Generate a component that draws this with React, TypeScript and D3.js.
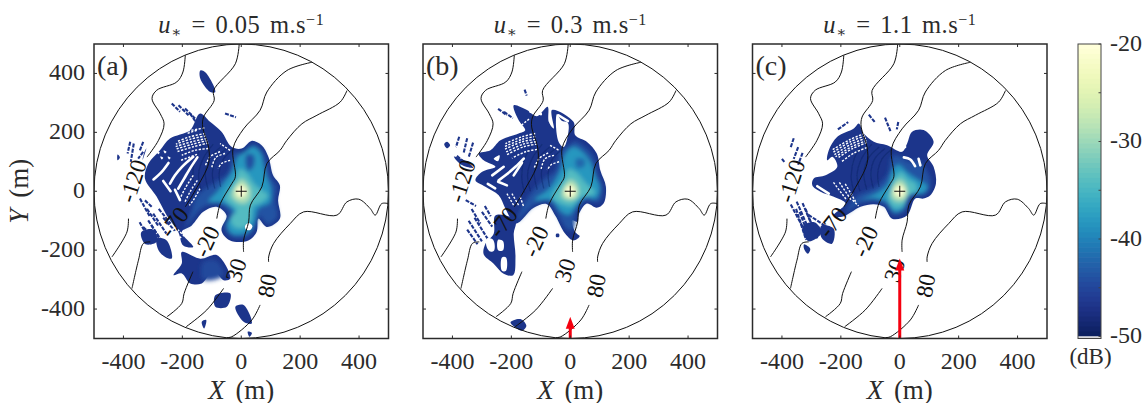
import React from "react";
import * as d3 from "d3";

type P = [number, number];
type Level = { db: number; pts: P[] };

// ---------- shared ----------
const axisTicks = [-400, -200, 0, 200, 400];
const barTicks = [-20, -25, -30, -35, -40, -45, -50];
const barLabels = [-20, -30, -40, -50];
const panelNames = ["(a)", "(b)", "(c)"];
const panelSpeeds = ["0.05", "0.3", "1.1"];
const panelLeft = [94, 423, 752.5];
const arrowTip = [null, -426, -228] as (number | null)[];

const contourM120a: P[] = [[-190,462],[-198,405],[-219,371],[-287,343],[-303,315],[-275,263],[-262,229],[-281,173],[-320,116]];
const contourM120b: P[] = [[-383,-93],[-388,-138],[-439,-223]];
const contourM70a: P[] = [[-7,500],[-20,433],[-94,342],[-92,308],[-128,252],[-131,218],[-111,150],[-111,94],[-156,3],[-190,-53]];
const contourM70b: P[] = [[-309,-172],[-332,-177],[-349,-234],[-371,-330]];
const contourM20a: P[] = [[240,438],[155,410],[87,337],[64,275],[8,212],[-28,145],[-20,49],[-32,26],[-71,-42],[-83,-93]];
const contourM20b: P[] = [[-164,-273],[-194,-347],[-202,-381],[-252,-426]];
const contour30a: P[] = [[359,342],[336,303],[257,258],[206,229],[155,173],[132,139],[87,94],[70,15],[31,-47],[25,-104],[8,-166],[8,-206]];
const contour30b: P[] = [[-60,-330],[-117,-403],[-187,-460]];
const contour80a: P[] = [[500,-42],[477,-42],[455,-81],[438,-59],[399,-27],[359,-36],[325,-81],[212,-70],[166,-110],[110,-177],[93,-223],[93,-240]];
const contour80b: P[] = [[64,-386],[36,-437],[-32,-494],[-49,-497]];
const contours = [contourM120a, contourM120b, contourM70a, contourM70b, contourM20a, contourM20b, contour30a, contour30b, contour80a, contour80b];
const contourLabels: { t: string; x: number; y: number; r: number }[] = [
  { t: "-120", x: -368, y: 35, r: -72 },
  { t: "-70", x: -228, y: -105, r: -52 },
  { t: "-20", x: -118, y: -170, r: -65 },
  { t: "30", x: -18, y: -268, r: -72 },
  { t: "80", x: 88, y: -320, r: -80 },
];
const ripples: P[][] = [
  [[-30,140],[-60,110],[-75,60],[-70,15]],
  [[-50,145],[-85,110],[-98,60],[-90,10]],
  [[-70,150],[-108,110],[-122,60],[-112,5]],
  [[-95,160],[-130,110],[-145,55],[-135,0]],
  [[-120,170],[-155,110],[-165,50],[-155,-5]],
];

// ---------- panel (a) ----------
const darkA: P[][] = [
  [[-140,264],[-106,236],[-67,202],[-33,151],[1,145],[35,171],[69,156],[92,117],[108,54],[131,20],[125,-31],[131,-93],[86,-121],[58,-93],[52,-138],[24,-167],[-38,-167],[-67,-133],[-50,-82],[-84,-53],[-129,-70],[-168,-116],[-202,-138],[-163,-189],[-197,-184],[-214,-138],[-253,-82],[-287,-19],[-327,43],[-315,94],[-276,139],[-242,179],[-174,207]],
  [[-202,-206],[-139,-229],[-82,-217],[-37,-296],[-60,-302],[-94,-268],[-134,-313],[-173,-313],[-202,-279],[-230,-285],[-202,-245]],
  [[-139,410],[-122,404],[-88,337],[-105,337],[-139,382]],
  [[-88,-353],[-37,-347],[-49,-392],[-88,-392]],
  [[-20,-392],[8,-386],[36,-449],[8,-443]],
  [[-134,-443],[-119,-437],[-126,-466]],
  [[22,-477],[36,-481],[28,-494]],
  [[-287,-160],[-253,-167],[-236,-228],[-258,-223],[-281,-200]],
  [[-330,130],[-322,146],[-335,106]],
  [[-420,125],[-412,115],[-420,105]],
  [[-340,-140],[-300,-130],[-285,-170],[-325,-180]],
];
const heatA: Level[] = [
  { db: -43.5, pts: [[-25,130],[10,130],[40,160],[70,140],[85,105],[100,50],[120,15],[115,-30],[122,-88],[90,-112],[62,-85],[45,-130],[20,-155],[-30,-155],[-55,-128],[-40,-80],[-75,-45],[-130,-55],[-190,-125],[-170,-70],[-150,-15],[-90,30],[-45,60]] },
  { db: -38, pts: [[-30,70],[-12,115],[5,130],[40,150],[65,130],[75,90],[85,50],[100,10],[95,-40],[70,-50],[55,-60],[45,-105],[20,-140],[-30,-145],[-50,-110],[-25,-70],[-60,-40],[-110,-35],[-80,0]] },
  { db: -44, pts: [[18,125],[42,122],[42,85],[25,70],[15,90]] },
  { db: -34, pts: [[-20,40],[-5,75],[20,60],[40,30],[60,10],[90,-15],[65,-40],[40,-50],[30,-100],[5,-125],[-25,-120],[-35,-90],[-15,-65],[-55,-25]] },
  { db: -29, pts: [[-15,25],[0,42],[18,28],[32,0],[28,-28],[10,-42],[-15,-36],[-33,-14]] },
  { db: -24, pts: [[-12,18],[8,20],[18,0],[12,-18],[-8,-22],[-20,-5]] },
  { db: -20, pts: [[-8,14],[8,14],[16,0],[10,-14],[-8,-14],[-16,0]] },
  { db: -44.5, pts: [[-130,-240],[-85,-235],[-60,-285],[-130,-300]] },
];
const holesA: P[][] = [
  [[25,-108],[38,-118],[30,-132],[16,-130],[13,-118]],
  [[-287,136],[-277,132],[-282,126]],
  [[-264,138],[-254,134],[-259,128]],
  [[-250,118],[-240,114],[-245,108]],
  [[-275,118],[-265,114],[-270,108]],
];
const thickA: P[][] = [
  [[-163,117],[-202,82],[-225,54],[-242,26]],
  [[-149,115],[-174,77],[-194,43],[-214,9]],
  [[-247,96],[-270,66],[-298,40]],
  [[-265,35],[-240,0]],
  [[-225,5],[-208,-30]],
];
const fineA: P[][] = [
  [[-123,196],[-174,185],[-219,168]],
  [[-120,188],[-172,177],[-222,160]],
  [[-118,179],[-168,168],[-225,151]],
  [[-115,172],[-165,160],[-222,143]],
  [[-112,164],[-163,151],[-219,134]],
  [[-112,145],[-157,139],[-202,122]],
  [[-125,215],[-180,205]],
  [[-150,125],[-205,105]],
  [[-151,207],[-185,196]],
  [[-163,54],[-191,9],[-208,-25]],
  [[-149,37],[-174,-2],[-191,-36]],
  [[-140,9],[-163,-31],[-176,-48]],
  [[-55,128],[-86,115],[-101,77]],
  [[-72,134],[-106,117],[-123,83]],
  [[-38,105],[-67,94],[-78,77]],
  [[-38,139],[-72,162]],
  [[-236,-127],[-202,-161]],
  [[-225,-121],[-191,-155]],
];
const specksA: P[][] = [
  [[-377,168],[-386,128]], [[-333,168],[-344,139]], [[-333,134],[-350,111]], [[-365,162],[-375,100]],
  [[-344,-25],[-310,-87]], [[-333,-121],[-288,-167]], [[-316,-99],[-271,-167]], [[-338,-144],[-304,-178]], [[-299,-76],[-254,-144]], [[-327,-31],[-304,-53]],
  [[-280,-60],[-240,-110]], [[-320,-60],[-280,-120]], [[-305,-115],[-265,-185]], [[-345,-105],[-320,-150]], [[-265,-90],[-225,-135]],
  [[-236,298],[-208,270]], [[-213,292],[-179,258]], [[-191,281],[-157,247]], [[-174,264],[-146,224]], [[-55,264],[-18,251]],
];

// ---------- panel (b) ----------
const darkB: P[][] = [
  [[-192,292],[-147,276],[-113,255],[-77,287],[-73,236],[-56,213],[-62,276],[11,236],[17,190],[56,168],[90,128],[102,71],[121,15],[113,-42],[90,-56],[56,-42],[28,-82],[25,-104],[6,-99],[17,-138],[32,-153],[11,-167],[-17,-144],[-51,-82],[-79,-44],[-124,-56],[-186,-110],[-220,-59],[-243,-14],[-288,15],[-322,37],[-299,66],[-254,83],[-294,105],[-311,128],[-271,139],[-237,173],[-175,196],[-153,207],[-175,241]],
  [[-254,-82],[-186,-99],[-192,-144],[-186,-223],[-194,-285],[-226,-280],[-260,-246],[-294,-214],[-288,-178],[-260,-144]],
  [[-203,-445],[-169,-434],[-149,-457],[-164,-474]],
  [[-428,160],[-418,168],[-408,156],[-418,146]],
  [[-48,-145],[-38,-145],[-38,-155],[-48,-155]],
  [[-395,118],[-350,100],[-330,80],[-370,90]],
];
const heatB: Level[] = [
  { db: -43.5, pts: [[-30,140],[-5,155],[15,170],[50,150],[80,115],[90,65],[110,15],[100,-35],[70,-35],[50,-30],[20,-75],[10,-130],[-10,-130],[-45,-75],[-75,-35],[-120,-45],[-180,-100],[-150,-30],[-90,40],[-50,70]] },
  { db: -38, pts: [[-30,80],[-20,120],[10,150],[45,130],[70,95],[85,50],[100,10],[85,-25],[55,-20],[25,-45],[-5,-80],[-30,-70],[-65,-30],[-120,-30],[-70,10]] },
  { db: -42, pts: [[20,110],[48,108],[48,85],[22,80]] },
  { db: -34, pts: [[-20,45],[-5,75],[25,60],[50,30],[85,-5],[60,-15],[35,-20],[5,-50],[-25,-45],[-60,-20]] },
  { db: -29, pts: [[-15,25],[0,40],[18,30],[30,0],[20,-25],[-10,-30],[-30,-15]] },
  { db: -24, pts: [[-12,18],[8,20],[18,0],[12,-18],[-8,-20],[-20,-5]] },
  { db: -20, pts: [[-8,14],[8,14],[16,0],[10,-14],[-8,-14],[-16,0]] },
];
const holesB: P[][] = [
  [[-45,262],[-30,240],[-8,232],[-8,190],[-22,150],[-38,165],[-48,215]],
  [[-282,-160],[-262,-165],[-258,-200],[-272,-205],[-285,-185]],
  [[-245,-165],[-228,-170],[-228,-200],[-245,-200]],
  [[-232,-225],[-218,-225],[-218,-270],[-232,-270]],
  [[-260,110],[-240,122],[-245,102]],
];
const thickB: P[][] = [
  [[-158,111],[-186,83],[-220,54],[-243,37]],
  [[-164,97],[-192,54]],
  [[-226,83],[-265,54]],
  [[-280,25],[-255,10]],
  [[-245,32],[-215,20]],
  [[-135,270],[-100,262]],
  [[-40,258],[-8,238]],
];
const fineB: P[][] = [
  [[-119,196],[-164,185],[-220,162]],
  [[-119,186],[-164,176],[-222,152]],
  [[-119,176],[-164,168],[-226,141]],
  [[-116,168],[-160,160],[-220,132]],
  [[-113,160],[-158,151],[-215,124]],
  [[-113,142],[-152,134],[-198,112]],
  [[-215,-8],[-192,-48]],
  [[-198,-8],[-175,-48]],
  [[-170,-19],[-158,-53]],
  [[-55,122],[-86,110],[-100,70]],
  [[-75,130],[-105,112],[-122,80]],
  [[-38,100],[-65,90],[-78,72]],
  [[-40,140],[-72,158]],
  [[-140,245],[-165,225]],
];
const specksB: P[][] = [
  [[-377,185],[-388,150]], [[-350,180],[-362,130]], [[-330,165],[-345,115]], [[-385,120],[-350,90]],
  [[-355,-30],[-320,-50]], [[-345,-100],[-300,-170]], [[-325,-90],[-275,-170]], [[-350,-130],[-315,-180]], [[-300,-70],[-265,-120]],
  [[-335,-60],[-305,-110]], [[-290,-50],[-270,-85]],
  [[-245,280],[-215,258]], [[-225,270],[-195,248]], [[-155,345],[-148,325]],
];

// ---------- panel (c) ----------
const darkC: P[][] = [
  [[-139,230],[-122,196],[-88,168],[-43,156],[8,134],[25,162],[42,202],[81,208],[115,168],[93,122],[115,83],[123,26],[104,-14],[81,-25],[53,-25],[25,-82],[-26,-93],[-54,-53],[-88,-44],[-133,-53],[-196,-87],[-224,-82],[-184,-42],[-224,-19],[-269,-2],[-297,20],[-292,43],[-252,54],[-212,83],[-229,117],[-246,105],[-241,139],[-212,185],[-156,213]],
  [[-266,-116],[-224,-127],[-230,-178],[-258,-166],[-269,-149]],
  [[-325,-180],[-304,-195],[-312,-212],[-325,-195]],
  [[-330,-120],[-290,-105],[-265,-140],[-310,-170]],
];
const heatC: Level[] = [
  { db: -43.5, pts: [[-25,120],[10,115],[30,100],[60,105],[85,80],[105,30],[90,-8],[55,-10],[35,-15],[15,-70],[-20,-80],[-45,-50],[-85,-32],[-135,-42],[-185,-75],[-150,-20],[-80,15],[-40,60]] },
  { db: -38, pts: [[-25,70],[-5,90],[30,60],[60,40],[95,15],[75,-10],[50,-10],[30,-20],[10,-60],[-20,-70],[-45,-35],[-90,-25],[-130,-30],[-75,-5],[-40,25]] },
  { db: -34, pts: [[-18,45],[5,65],[30,40],[55,25],[55,0],[30,-15],[10,-50],[-20,-55],[-40,-25],[-30,10]] },
  { db: -29, pts: [[-15,28],[3,40],[20,22],[27,-5],[15,-30],[-10,-35],[-30,-15]] },
  { db: -24, pts: [[-12,18],[8,20],[18,0],[12,-18],[-8,-20],[-20,-5]] },
  { db: -20, pts: [[-8,14],[8,14],[16,0],[10,-14],[-8,-14],[-16,0]] },
];
const holesC: P[][] = [];
const thickC: P[][] = [
  [[14,115],[36,108],[52,85]],
  [[64,110],[70,88]],
  [[-280,17],[-241,-8]],
  [[10,170],[18,150]],
];
const fineC: P[][] = [
  [[-120,196],[-170,175],[-230,140]],
  [[-118,188],[-168,168],[-228,131]],
  [[-115,180],[-165,160],[-225,122]],
  [[-113,172],[-162,152],[-218,117]],
  [[-112,165],[-160,145],[-212,112]],
  [[-112,148],[-155,130],[-198,100]],
  [[-225,30],[-180,-30]],
  [[-205,30],[-165,-30]],
  [[-185,25],[-150,-35]],
  [[-160,-30],[-140,-50]],
];
const specksC: P[][] = [
  [[-360,180],[-370,150]], [[-345,150],[-360,110]], [[-330,130],[-345,90]], [[-400,110],[-392,100]],
  [[-370,-45],[-325,-130]], [[-350,-35],[-300,-150]], [[-330,-40],[-280,-160]], [[-310,-80],[-250,-120]], [[-352,-60],[-318,-165]],
  [[-340,-70],[-310,-150]], [[-320,-60],[-290,-135]],
  [[-210,210],[-175,235]], [[-105,260],[-85,235]], [[-50,250],[-30,200]],[[-5,235],[-10,210]],
];

const panelDark = [darkA, darkB, darkC];
const panelHeat = [heatA, heatB, heatC];
const panelHoles = [holesA, holesB, holesC];
const panelThick = [thickA, thickB, thickC];
const panelFine = [fineA, fineB, fineC];
const panelSpecks = [specksA, specksB, specksC];

// ---------- drawing ----------
const W = 1143, H = 403;
const size = 294.5, top = 44;
const serif = "'Liberation Serif', 'DejaVu Serif', serif";
const ink = "#2b2b2b";
const TICK = 24;
const colour = (db: number) => d3.interpolateYlGnBu(d3.scaleLinear([-20, -50], [0, 1]).clamp(true)(db));
const baseDark = colour(-46.5);

function Panel({ index }: { index: number }) {
  const left = panelLeft[index];
  const x = d3.scaleLinear([-500, 500], [left, left + size]);
  const y = d3.scaleLinear([-500, 500], [top + size, top]);
  const open = d3.line<P>().x(d => x(d[0])).y(d => y(d[1])).curve(d3.curveCatmullRom);
  const closed = d3.line<P>().x(d => x(d[0])).y(d => y(d[1])).curve(d3.curveCatmullRomClosed);
  const tip = arrowTip[index];
  const clip = `clip-${index}`;
  return (
    <g>
      <defs>
        <clipPath id={clip}><rect x={left} y={top} width={size} height={size} /></clipPath>
      </defs>
      <g clipPath={`url(#${clip})`}>
        <g filter="url(#soft)">
          {panelDark[index].map((p, i) => <path key={i} d={closed(p)!} fill={baseDark} />)}
          {panelSpecks[index].map((p, i) => <path key={i} d={open(p)!} fill="none" stroke={baseDark} strokeWidth={2.1} strokeDasharray="4 1.3" />)}
        </g>
        <g filter="url(#wide)">
          {panelHeat[index].map((l, i) => <path key={i} d={closed(l.pts)!} fill={colour(l.db)} />)}
        </g>
        <g filter="url(#soft)">
          {ripples.map((p, i) => <path key={i} d={open(p)!} fill="none" stroke={colour(-50)} strokeOpacity={0.35} strokeWidth={1.3} />)}
          {panelHoles[index].map((p, i) => <path key={i} d={closed(p)!} fill="#fff" />)}
          {panelThick[index].map((p, i) => <path key={i} d={open(p)!} fill="none" stroke="#fff" strokeWidth={2.6} strokeLinecap="round" />)}
          {panelFine[index].map((p, i) => <path key={i} d={open(p)!} fill="none" stroke="#fff" strokeWidth={1.4} strokeDasharray="2.2 1.5" />)}
        </g>
        {contours.map((c, i) => <path key={i} d={open(c)!} fill="none" stroke="#111" strokeWidth={1} />)}
        <circle cx={x(0)} cy={y(0)} r={size / 2} fill="none" stroke="#111" strokeWidth={1} />
        {contourLabels.map(l => (
          <text key={l.t} transform={`translate(${x(l.x)},${y(l.y)}) rotate(${l.r})`} textAnchor="middle" dominantBaseline="central" fontSize={23.5} fontFamily={serif} fill="#111">{l.t}</text>
        ))}
        <path d={`M${x(0) - 5.5},${y(0)}H${x(0) + 5.5}M${x(0)},${y(0) - 5.5}V${y(0) + 5.5}`} stroke="#111" strokeWidth={1} fill="none" />
        {tip !== null && (
          <g>
            <line x1={x(0)} x2={x(0)} y1={y(-500)} y2={y(tip) + 8} stroke="#f5000f" strokeWidth={3} />
            <path d={`M${x(0)},${y(tip)}L${x(0) + 4.5},${y(tip) + 12}H${x(0) - 4.5}Z`} fill="#f5000f" />
          </g>
        )}
      </g>
      <rect x={left} y={top} width={size} height={size} fill="none" stroke={ink} strokeWidth={1.5} />
      {axisTicks.map(t => (
        <g key={t} stroke={ink} strokeWidth={1}>
          <line x1={x(t)} x2={x(t)} y1={top + size} y2={top + size - 3} />
          <line x1={x(t)} x2={x(t)} y1={top} y2={top + 3} />
          <line y1={y(t)} y2={y(t)} x1={left} x2={left + 3} />
          <line y1={y(t)} y2={y(t)} x1={left + size} x2={left + size - 3} />
        </g>
      ))}
      {axisTicks.map(t => (
        <text key={t} x={x(t)} y={top + size + 30} textAnchor="middle" fontSize={TICK} fontFamily={serif} fill={ink}>{t}</text>
      ))}
      {index === 0 && axisTicks.map(t => (
        <text key={t} x={left - 9} y={y(t) + 7} textAnchor="end" fontSize={TICK} fontFamily={serif} fill={ink}>{t}</text>
      ))}
      <text x={left + 3} y={top + 31} fontSize={28} fontFamily={serif} fill={ink}>{panelNames[index]}</text>
      <text x={x(0)} y={33} textAnchor="middle" fontSize={24.5} fontFamily={serif} fill={ink} wordSpacing={3} letterSpacing={0.5}>
        <tspan fontStyle="italic">u</tspan>
        <tspan fontSize={15} dy={4}>∗</tspan>
        <tspan dy={-4}> = {panelSpeeds[index]} m.s</tspan>
        <tspan fontSize={16} dy={-8}>−1</tspan>
      </text>
      <text x={x(0)} y={top + size + 60} textAnchor="middle" fontSize={27} fontFamily={serif} fill={ink} wordSpacing={4}>
        <tspan fontStyle="italic">X</tspan> (m)
      </text>
    </g>
  );
}

function Colourbar() {
  const bx = 1078, bw = 23, by = 44;
  const yb = d3.scaleLinear([-20, -50], [by, by + size - 2]);
  const stops = d3.range(0, 59);
  const dbAt = d3.scaleLinear([0, 59], [-20, -50]);
  return (
    <g>
      {stops.map(s => (
        <rect key={s} x={bx} y={yb(dbAt(s))} width={bw} height={(size - 2) / 59 + (s < 58 ? 0.6 : 0)} fill={colour(dbAt(s))} />
      ))}
      <rect x={bx} y={by + size - 2} width={bw} height={2} fill="#d8d8dc" />
      <rect x={bx} y={by} width={bw} height={size} fill="none" stroke="#444" strokeWidth={1} />
      {barTicks.map(t => <line key={t} x1={bx + bw} x2={bx + bw - 2.5} y1={yb(t)} y2={yb(t)} stroke="#444" strokeWidth={1} />)}
      {barLabels.map(t => (
        <text key={t} x={bx + bw + 9} y={yb(t) + 6.5} fontSize={TICK} fontFamily={serif} fill={ink}>{t}</text>
      ))}
      <text x={bx + bw / 2 + 1} y={364} textAnchor="middle" fontSize={23} fontFamily={serif} fill={ink}>(dB)</text>
    </g>
  );
}

export default function App() {
  return (
    <svg width={W} height={H} viewBox={`0 0 ${W} ${H}`} style={{ position: "absolute", left: 0, top: 0, background: "#fff" }}>
      <defs>
        <filter id="soft" x="-10%" y="-10%" width="120%" height="120%"><feGaussianBlur stdDeviation="0.55" /></filter>
        <filter id="wide" x="-10%" y="-10%" width="120%" height="120%"><feGaussianBlur stdDeviation="2.2" /></filter>
      </defs>
      {panelNames.map((_, i) => <Panel key={i} index={i} />)}
      <Colourbar />
      <text transform={`translate(28,${top + size / 2}) rotate(-90)`} textAnchor="middle" fontSize={27} fontFamily={serif} fill={ink} wordSpacing={4}>
        <tspan fontStyle="italic">Y</tspan> (m)
      </text>
    </svg>
  );
}
